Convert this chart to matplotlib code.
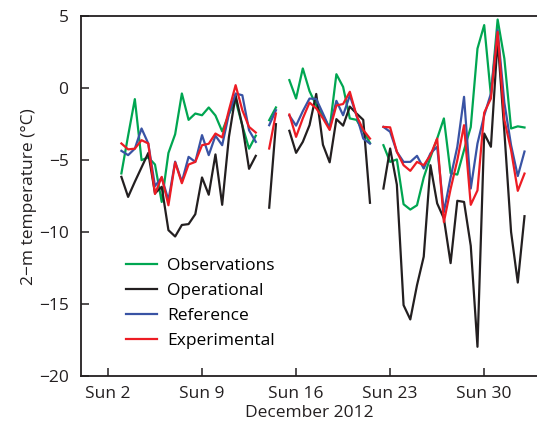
import numpy as np
import matplotlib.pyplot as plt

plt.rcParams['font.family'] = ['Open Sans', 'DejaVu Sans']

# 12-hourly values starting 3 Dec 2012 00 UTC (x = day of December)
days = 3 + 0.5 * np.arange(61)
nan = np.nan

observations = [-5.92, -3.3, -0.76, -5.0, -4.8, -5.3, -7.9, -4.5, -3.2, -0.37,
                -2.2, -1.76, -1.88, -1.34, -1.9, -3.0, -1.8, -0.83, -2.6, -4.2,
                -3.3, nan, -2.22, -1.34, nan, 0.56, -0.72, 1.37, -0.2, -1.2,
                -1.9, -2.8, 0.97, 0.09, -2.1, -2.2, -3.0, -3.8, nan, -3.96,
                -5.12, -4.95, -8.06, -8.43, -8.13, -6.2, -4.8, -3.5, -2.1, -5.9,
                -6.0, -4.3, -2.7, 2.75, 4.38, -0.5, 4.77, 2.06, -2.8, -2.65,
                -2.73]
operational = [-6.16, -7.55, -6.5, -5.5, -4.5, -7.3, -6.85, -9.86, -10.3, -9.5,
               -9.44, -8.75, -6.2, -7.4, -4.6, -8.1, -3.4, -0.5, -2.6, -5.6,
               -4.7, nan, -8.3, -2.5, nan, -2.96, -4.49, -3.73, -2.57, -0.4,
               -3.93, -5.15, -2.15, -2.6, -1.28, -1.76, -2.2, -7.96, nan, -6.97,
               -4.19, -6.7, -15.07, -16.06, -13.68, -11.7, -5.35, -8.0, -9.05, -12.15,
               -7.82, -7.9, -10.95, -17.96, -3.15, -4.07, 3.38, -3.0, -9.98, -13.5,
               -8.89]
reference = [-4.35, -4.65, -4.2, -2.8, -3.84, -6.8, -6.2, -7.78, -5.1, -6.5,
             -4.77, -5.12, -3.26, -4.65, -3.3, -3.96, -1.8, -0.37, -0.49, -2.92,
             -3.73, nan, -2.57, -1.53, nan, -1.9, -2.6, -1.6, -0.72, -0.75,
             -1.76, -2.8, -0.88, -1.88, -0.5, -1.9, -3.5, -3.85, nan, -2.69,
             -3.03, -4.42, -5.12, -5.12, -4.7, -5.58, -4.53, -4.07, -8.6, -6.2,
             -4.07, -0.6, -6.97, -3.84, -1.9, -0.37, 4.03, -1.0, -3.96, -6.1,
             -4.4]
experimental = [-3.84, -4.25, -4.2, -3.61, -3.84, -7.35, -6.16, -8.13, -5.15, -6.6,
                -5.3, -5.12, -3.96, -3.86, -3.15, -3.42, -1.53, 0.21, -1.53, -2.69,
                -3.08, nan, -4.19, -1.76, nan, -1.83, -3.38, -2.1, -1.0, -1.4,
                -2.1, -2.9, -1.2, -1.1, -0.25, -1.9, -2.9, -3.5, nan, -2.69,
                -2.72, -4.42, -5.35, -5.74, -5.12, -5.35, -4.65, -3.5, -9.3, -7.0,
                -5.0, -2.57, -8.1, -7.1, -1.7, -0.72, 3.9, -2.2, -4.3, -7.13,
                -5.93]

tick_days = [2, 9, 16, 23, 30]
tick_labels = ['Sun 2', 'Sun 9', 'Sun 16', 'Sun 23', 'Sun 30']

fig = plt.figure(figsize=(5.37, 4.26), dpi=100)
ax = fig.add_axes([0.151, 0.117, 0.849, 0.845])

ax.plot(days, observations, color='#00a651', lw=1.6, label='Observations')
ax.plot(days, operational, color='#231f20', lw=1.6, label='Operational')
ax.plot(days, reference, color='#3953a4', lw=1.6, label='Reference')
ax.plot(days, experimental, color='#ed1c24', lw=1.6, label='Experimental')

ax.set_xlim(0, 33.93)
ax.set_ylim(-20, 5)
ax.set_yticks([5, 0, -5, -10, -15, -20])
ax.set_xticks(tick_days)
ax.set_xticklabels(tick_labels)
ax.tick_params(direction='in', length=6, width=1.1, color='#231f20',
               labelsize=12.5, labelcolor='#231f20')
ax.tick_params(axis='y', pad=9)
ax.tick_params(axis='x', pad=7)
for s in ['left', 'bottom', 'top']:
    ax.spines[s].set_color('#231f20')
    ax.spines[s].set_linewidth(1.3)
ax.spines['right'].set_visible(False)

ax.set_xlabel('December 2012', fontsize=12.5, color='#231f20', labelpad=2)
ax.set_ylabel('2\u2212m temperature (\u00b0C)', fontsize=12.5, color='#231f20', labelpad=1)

ax.legend(loc='upper left', bbox_to_anchor=(0.098, 0.328), frameon=False,
          fontsize=12.5, handlelength=1.8, handletextpad=0.6, labelspacing=0.5,
          borderpad=0, borderaxespad=0)

plt.savefig('out.png', dpi=100)
